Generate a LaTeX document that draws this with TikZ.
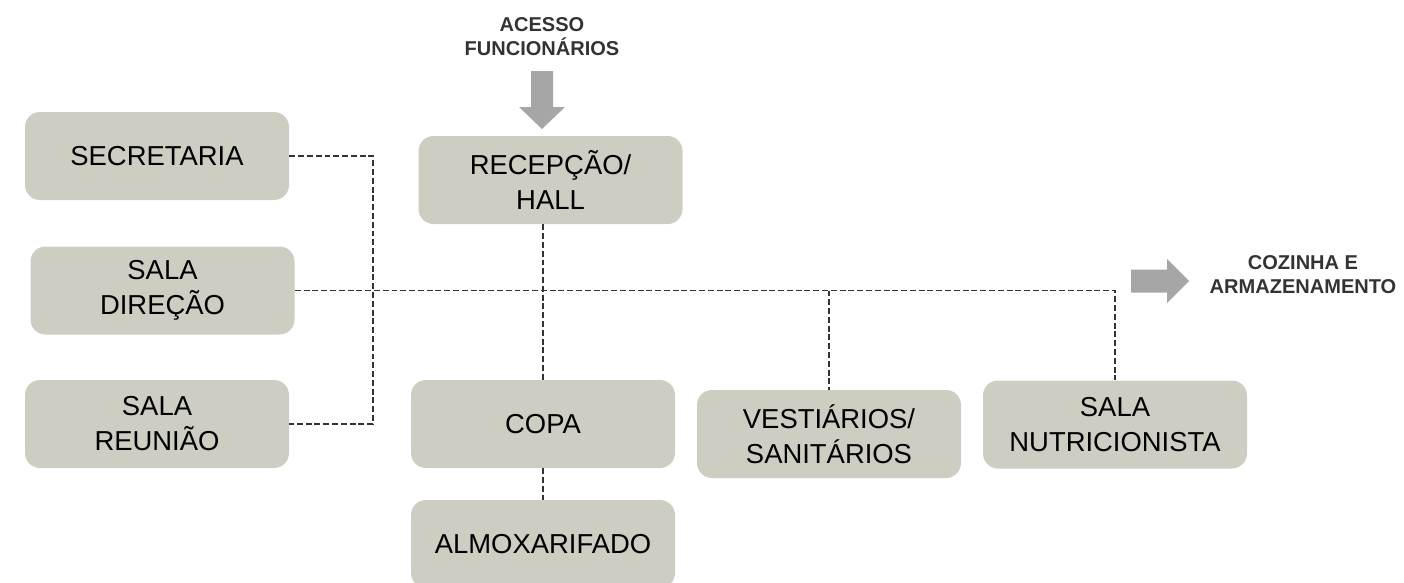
\documentclass[tikz,border=0pt]{standalone}
\usepackage{fontspec}
\setmainfont{Liberation Sans}
\usepackage{tikz}
\usetikzlibrary{positioning}
\definecolor{caixacor}{RGB}{206,205,194}
\definecolor{setacor}{RGB}{166,166,166}
\definecolor{linhacor}{RGB}{51,51,51}

\begin{document}
\begin{tikzpicture}[
		sala/.style={fill=caixacor,rounded corners=0.3cm,minimum width=5.28cm,minimum height=1.76cm,align=center,inner sep=0pt,font=\fontsize{15.6}{19.9}\selectfont,text=black},
		ligacao/.style={draw=linhacor,line width=0.9pt,dash pattern=on 3.4pt off 1.6pt},
		rotulo/.style={align=center,font=\bfseries\fontsize{11.4}{13.6}\selectfont,text=linhacor},
		seta/.style={fill=setacor}]
			\useasboundingbox (0,0) rectangle (28.08,-11.66);

			\node[sala] (secretaria) at (3.14,-3.12) {SECRETARIA};
			\node[sala] (direcao) at (3.25,-5.81) {SALA\\DIREÇÃO};
			\node[sala] (reuniao) at (3.14,-8.48) {SALA\\REUNIÃO};
			\node[sala] (recepcao) at (11.01,-3.60) {RECEPÇÃO/\\HALL};
			\node[sala] (copa) at (10.86,-8.48) {COPA};
			\node[sala] (almox) at (10.86,-10.88) {ALMOXARIFADO};
			\node[sala] (vest) at (16.58,-8.68) {VESTIÁRIOS/\\SANITÁRIOS};
			\node[sala] (nutri) at (22.30,-8.49) {SALA\\NUTRICIONISTA};

			\coordinate (elo) at (7.46,-3.12);
			\coordinate (fim) at (nutri.north |- direcao.east);
			\draw[ligacao] (secretaria.east) -- (elo) -- (elo |- reuniao.east) -- (reuniao.east);
			\draw[ligacao] (direcao.east) -- (fim) -- (nutri.north);
			\draw[ligacao] (vest.north |- direcao.east) -- (vest.north);
			\draw[ligacao] (copa.north |- recepcao.south) -- (copa.north);
			\draw[ligacao] (copa.south) -- (almox.north);

			\fill[seta] (10.62,-1.42) -- (11.06,-1.42) -- (11.06,-2.14) -- (11.30,-2.14) -- (10.84,-2.58) -- (10.38,-2.14) -- (10.62,-2.14) -- cycle;
			\fill[seta] (22.62,-5.39) -- (23.34,-5.39) -- (23.34,-5.18) -- (23.78,-5.62) -- (23.34,-6.06) -- (23.34,-5.85) -- (22.62,-5.85) -- cycle;

			\node[rotulo] (acesso) at (10.84,-0.74) {ACESSO\\FUNCIONÁRIOS};
			\node[rotulo] (cozinha) at (26.06,-5.49) {COZINHA E\\ARMAZENAMENTO};
\end{tikzpicture}
\end{document}
